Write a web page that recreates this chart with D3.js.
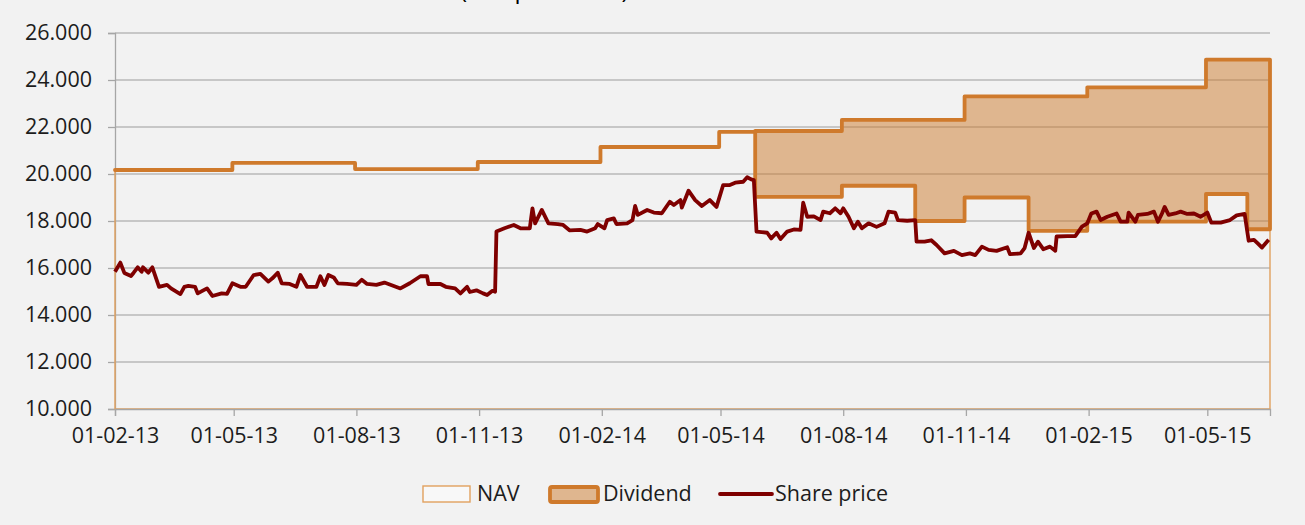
<!DOCTYPE html>
<html>
<head>
<meta charset="utf-8">
<script src="https://cdn.jsdelivr.net/npm/d3@7"></script>
<style>
  body { margin: 0; background: #f2f2f2; }
  text { font-family: "Open Sans", sans-serif; fill: #1c1c1c; }
</style>
</head>
<body>
<script>
// NAV and cumulative dividend, values change on these dates
var stepDates = ["2013-02-01","2013-04-30","2013-07-31","2013-10-31","2014-01-31","2014-04-30",
  "2014-05-27","2014-07-31","2014-09-24","2014-10-31","2014-12-18","2015-01-31","2015-04-30",
  "2015-05-31","2015-06-17"];
var navValues = [20.17,20.47,20.21,20.51,21.15,21.79,19.03,19.5,18.0,19.0,17.58,17.97,19.15,17.65,17.65];
var dividendValues = [0,0,0,0,0,0,2.8,2.8,4.3,4.3,5.72,5.72,5.72,7.22,7.22];

// share price
var priceDates = ["2013-02-01","2013-02-05","2013-02-08","2013-02-13","2013-02-15","2013-02-18",
  "2013-02-21","2013-02-22","2013-02-26","2013-03-01","2013-03-06","2013-03-12","2013-03-15",
  "2013-03-22","2013-03-25","2013-03-28","2013-04-02","2013-04-04","2013-04-11","2013-04-15",
  "2013-04-22","2013-04-26","2013-04-30","2013-05-06","2013-05-10","2013-05-16","2013-05-21",
  "2013-05-27","2013-05-30","2013-06-03","2013-06-06","2013-06-12","2013-06-17","2013-06-20",
  "2013-06-25","2013-07-02","2013-07-05","2013-07-08","2013-07-11","2013-07-15","2013-07-18",
  "2013-07-25","2013-08-01","2013-08-05","2013-08-09","2013-08-16","2013-08-22","2013-08-27",
  "2013-09-03","2013-09-10","2013-09-18","2013-09-23","2013-09-24","2013-10-03","2013-10-07",
  "2013-10-14","2013-10-18","2013-10-23","2013-10-25","2013-10-30","2013-11-04","2013-11-07",
  "2013-11-11","2013-11-13","2013-11-14","2013-11-20","2013-11-27","2013-12-02","2013-12-09",
  "2013-12-11","2013-12-13","2013-12-18","2013-12-23","2013-12-30","2014-01-03","2014-01-08",
  "2014-01-16","2014-01-21","2014-01-27","2014-01-29","2014-02-03","2014-02-05","2014-02-10",
  "2014-02-12","2014-02-20","2014-02-24","2014-02-26","2014-02-28","2014-03-07","2014-03-12",
  "2014-03-18","2014-03-24","2014-03-27","2014-04-01","2014-04-02","2014-04-07","2014-04-12",
  "2014-04-17","2014-04-23","2014-04-28","2014-05-03","2014-05-08","2014-05-12","2014-05-18",
  "2014-05-21","2014-05-24","2014-05-26","2014-05-28","2014-06-05","2014-06-08","2014-06-12",
  "2014-06-15","2014-06-20","2014-06-25","2014-06-30","2014-07-02","2014-07-05","2014-07-10",
  "2014-07-15","2014-07-17","2014-07-22","2014-07-26","2014-07-30","2014-08-01","2014-08-05",
  "2014-08-09","2014-08-12","2014-08-15","2014-08-20","2014-08-26","2014-09-01","2014-09-04",
  "2014-09-09","2014-09-11","2014-09-18","2014-09-24","2014-09-25","2014-10-01","2014-10-06",
  "2014-10-10","2014-10-16","2014-10-23","2014-10-29","2014-11-04","2014-11-08","2014-11-13",
  "2014-11-18","2014-11-24","2014-12-02","2014-12-04","2014-12-12","2014-12-15","2014-12-18",
  "2014-12-22","2014-12-25","2014-12-29","2015-01-03","2015-01-07","2015-01-08","2015-01-16",
  "2015-01-22","2015-01-27","2015-01-31","2015-02-03","2015-02-07","2015-02-10","2015-02-15",
  "2015-02-22","2015-02-25","2015-03-02","2015-03-03","2015-03-08","2015-03-10","2015-03-17",
  "2015-03-22","2015-03-25","2015-03-28","2015-03-30","2015-04-02","2015-04-07","2015-04-11",
  "2015-04-16","2015-04-21","2015-04-26","2015-05-01","2015-05-04","2015-05-11","2015-05-18",
  "2015-05-23","2015-05-29","2015-06-01","2015-06-05","2015-06-08","2015-06-11","2015-06-16"];
var priceValues = [15.84,16.23,15.79,15.66,15.80,16.03,15.84,16.03,15.80,16.03,15.20,15.28,15.13,
  14.89,15.20,15.24,15.20,14.92,15.13,14.81,14.92,14.90,15.35,15.20,15.20,15.70,15.75,15.42,15.56,
  15.80,15.35,15.32,15.20,15.70,15.20,15.20,15.65,15.28,15.70,15.60,15.35,15.32,15.28,15.50,15.32,
  15.28,15.38,15.28,15.13,15.35,15.65,15.65,15.32,15.32,15.20,15.13,14.92,15.20,14.98,15.05,14.92,
  14.85,15.03,14.99,17.55,17.69,17.83,17.69,17.69,18.54,17.90,18.47,17.90,17.87,17.83,17.60,17.62,
  17.55,17.69,17.87,17.69,18.04,18.11,17.87,17.90,18.04,18.64,18.26,18.47,18.36,18.33,18.82,18.68,
  18.89,18.57,19.29,18.89,18.64,18.89,18.60,19.53,19.53,19.63,19.67,19.86,19.77,19.74,17.55,17.50,
  17.26,17.50,17.23,17.55,17.64,17.62,18.78,18.18,18.20,18.04,18.40,18.33,18.54,18.33,18.54,18.18,
  17.69,17.97,17.69,17.90,17.75,17.90,18.40,18.36,18.04,18.01,18.04,17.12,17.12,17.18,16.98,16.62,
  16.73,16.55,16.62,16.55,16.91,16.77,16.73,16.88,16.59,16.62,16.85,17.50,16.85,17.12,16.80,16.91,
  16.73,17.34,17.36,17.36,17.76,17.90,18.32,18.40,18.04,18.18,18.32,17.97,17.97,18.36,17.97,18.26,
  18.30,18.40,17.97,18.32,18.60,18.26,18.32,18.40,18.30,18.32,18.18,18.36,17.93,17.93,18.04,18.24,
  18.30,17.16,17.20,17.04,16.87,17.20];

var xTickDates = ["2013-02-01","2013-05-01","2013-08-01","2013-11-01","2014-02-01","2014-05-01",
  "2014-08-01","2014-11-01","2015-02-01","2015-05-01"];
var yTicks = [10,12,14,16,18,20,22,24,26];

var parse = d3.utcParse("%Y-%m-%d");

var steps = stepDates.map(function(d, i) {
  return { date: parse(d), nav: navValues[i], div: dividendValues[i] };
});
var prices = priceDates.map(function(d, i) {
  return { date: parse(d), value: priceValues[i] };
});

var svg = d3.select("body")
            .append("svg")
            .attr("width", 1305)
            .attr("height", 525)
            .style("display", "block");

svg.append("rect")
    .attr("width", 1305)
    .attr("height", 525)
    .attr("fill", "#f2f2f2");

var x = d3.scaleUtc()
    .domain([parse("2013-02-01"), parse("2015-06-17")])
    .range([115, 1270]);

var y = d3.scaleLinear()
    .domain([10, 26])
    .range([409, 33]);

// title, cut off at the top of the picture
svg.append("text")
    .attr("x", 460)
    .attr("y", -2)
    .style("font-size", "24px")
    .style("fill", "#000")
    .text("(SEK per share)");

// gridlines
svg.append("g")
    .selectAll("line")
    .data(yTicks.slice(1))
    .enter()
    .append("line")
    .attr("x1", x.range()[0])
    .attr("x2", x.range()[1])
    .attr("y1", function(d) { return y(d); })
    .attr("y2", function(d) { return y(d); })
    .attr("stroke", "#b9b9b9")
    .attr("stroke-width", 1.3);

// y axis
var yAxis = svg.append("g")
    .attr("transform", "translate(115,0)")
    .call(d3.axisLeft(y).tickValues(yTicks).tickFormat(d3.format(".3f")).tickSizeOuter(0).tickSize(7).tickPadding(16));
yAxis.select(".domain").attr("stroke", "#a6a6a6").attr("stroke-width", 1.3);
yAxis.selectAll(".tick line").attr("stroke", "#a6a6a6").attr("stroke-width", 1.3);
yAxis.selectAll("text").style("font-size", "21.5px").attr("font-family", null).attr("fill", null);

// NAV area
var navArea = d3.area()
    .curve(d3.curveStepAfter)
    .x(function(d) { return x(d.date); })
    .y0(y(10))
    .y1(function(d) { return y(d.nav); });

svg.append("path")
    .datum(steps)
    .attr("d", navArea)
    .attr("fill", "none")
    .attr("stroke", "#e2a15e")
    .attr("stroke-width", 1.4);

// dividend stacked on NAV
var divArea = d3.area()
    .curve(d3.curveStepAfter)
    .x(function(d) { return x(d.date); })
    .y0(function(d) { return y(d.nav); })
    .y1(function(d) { return y(d.nav + d.div); });

svg.append("path")
    .datum(steps)
    .attr("d", divArea)
    .attr("fill", "rgba(204,122,44,0.5)")
    .attr("stroke", "#cf7a2c")
    .attr("stroke-width", 3.8)
    .attr("stroke-linejoin", "round");

// share price
var priceLine = d3.line()
    .x(function(d) { return x(d.date); })
    .y(function(d) { return y(d.value); });

svg.append("path")
    .datum(prices)
    .attr("d", priceLine)
    .attr("fill", "none")
    .attr("stroke", "#7f0000")
    .attr("stroke-width", 3.8)
    .attr("stroke-linejoin", "round");

// x axis
var xAxis = svg.append("g")
    .attr("transform", "translate(0,409)")
    .call(d3.axisBottom(x).tickValues(xTickDates.map(parse)).tickFormat(d3.utcFormat("%d-%m-%y")).tickSizeOuter(0).tickSize(7).tickPadding(12));
xAxis.select(".domain").attr("stroke", "#a6a6a6").attr("stroke-width", 1.3);
xAxis.selectAll(".tick line").attr("stroke", "#a6a6a6").attr("stroke-width", 1.3);
xAxis.selectAll("text").style("font-size", "21.5px").attr("font-family", null).attr("fill", null);

// legend
var legend = svg.append("g");

legend.append("rect")
    .attr("x", 423).attr("y", 486).attr("width", 47).attr("height", 16)
    .attr("fill", "#f8f8f8")
    .attr("stroke", "#e2a15e")
    .attr("stroke-width", 1.4);
legend.append("text")
    .attr("x", 477).attr("y", 501)
    .style("font-size", "21.5px")
    .text("NAV");

legend.append("rect")
    .attr("x", 550).attr("y", 487).attr("width", 48).attr("height", 15)
    .attr("rx", 2)
    .attr("fill", "rgba(204,122,44,0.5)")
    .attr("stroke", "#cf7a2c")
    .attr("stroke-width", 3.8);
legend.append("text")
    .attr("x", 603).attr("y", 501)
    .style("font-size", "21.5px")
    .text("Dividend");

legend.append("line")
    .attr("x1", 720).attr("x2", 772).attr("y1", 494).attr("y2", 494)
    .attr("stroke", "#7f0000")
    .attr("stroke-width", 3.8)
    .attr("stroke-linecap", "round");
legend.append("text")
    .attr("x", 775).attr("y", 501)
    .style("font-size", "21.5px")
    .text("Share price");
</script>
</body>
</html>
